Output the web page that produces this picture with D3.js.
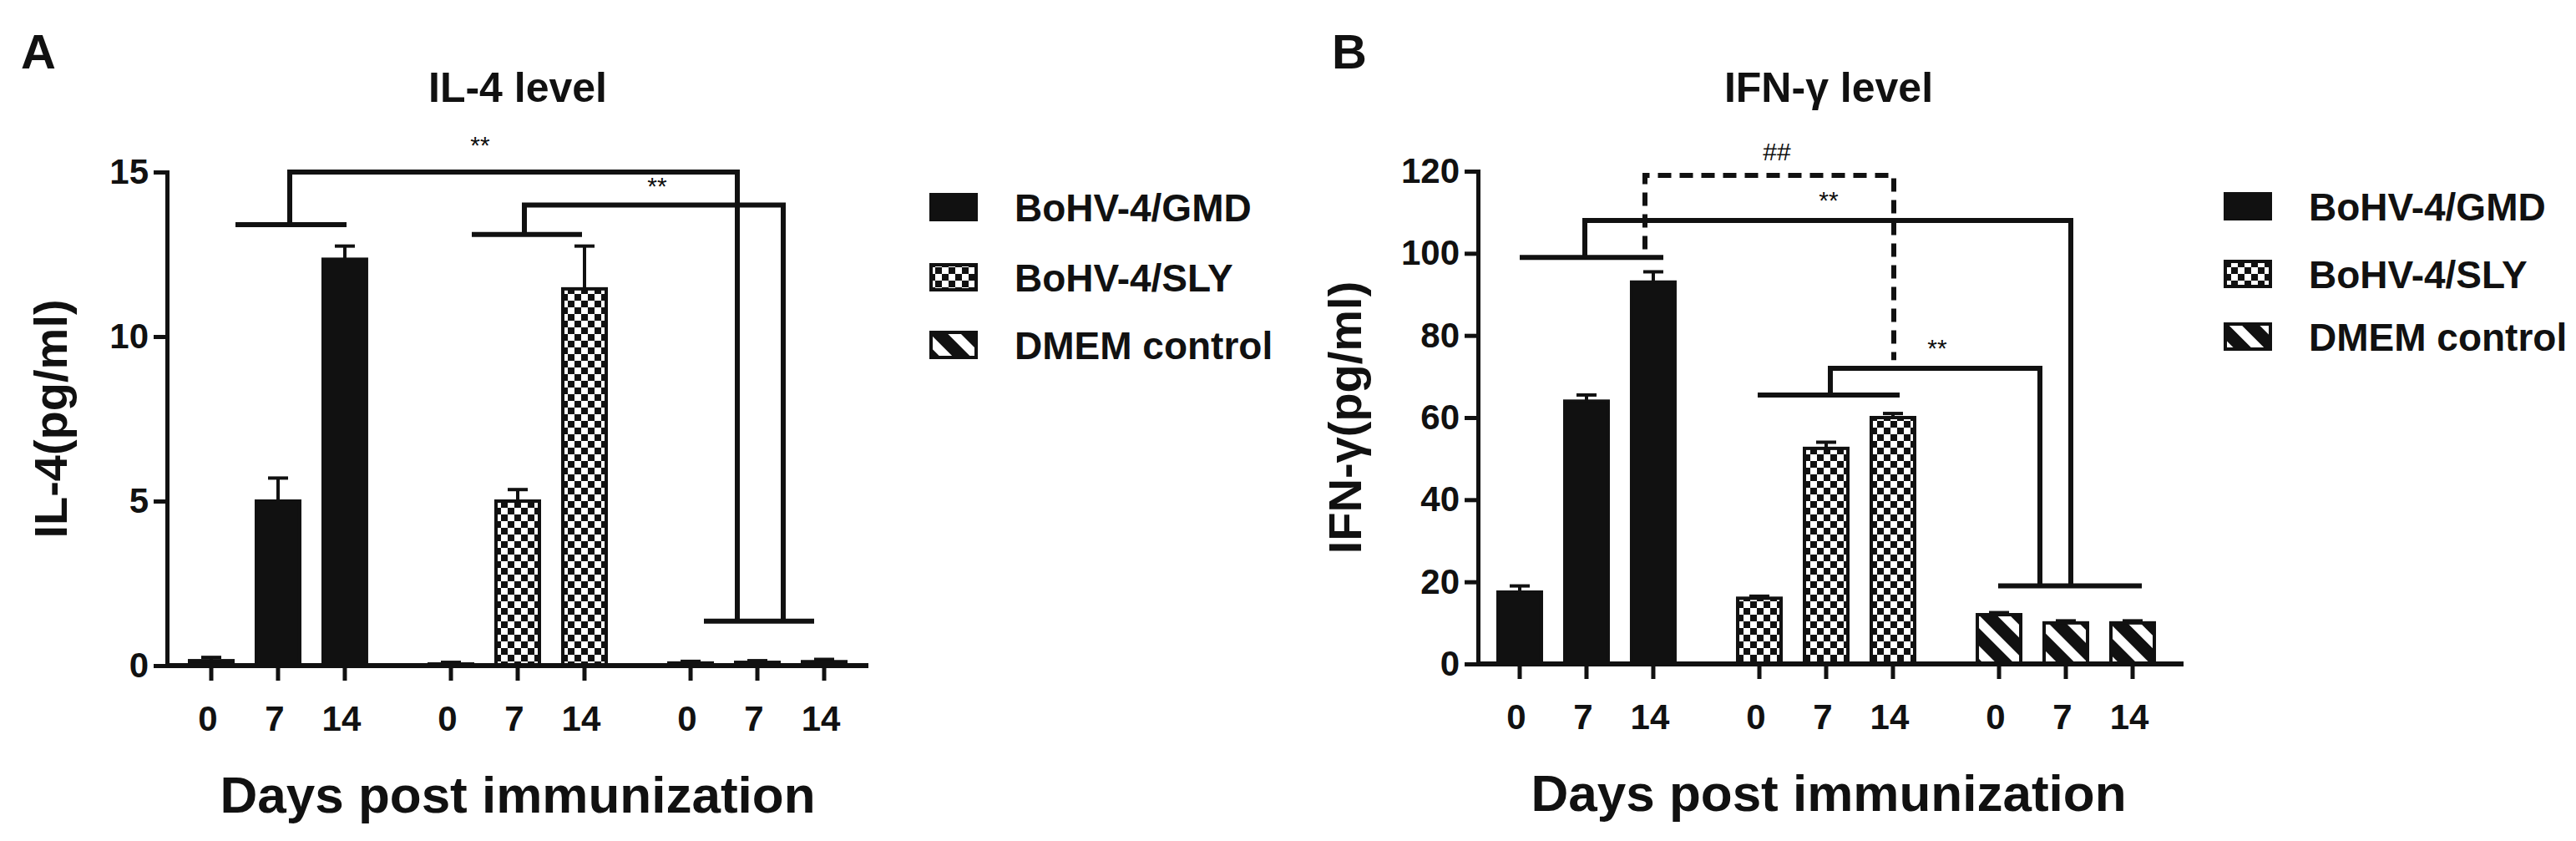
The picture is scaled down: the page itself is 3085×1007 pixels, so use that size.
<!DOCTYPE html>
<html><head><meta charset="utf-8">
<script src="https://cdn.jsdelivr.net/npm/d3@7"></script>
<style>body{margin:0;background:#fff}text{font-family:Arial,"Liberation Sans",sans-serif;font-weight:bold;fill:#111}</style>
</head><body><svg id="c" width="3085" height="1007"></svg>
<script>
const days = ["0","7","14"];
const groups = ["BoHV-4/GMD","BoHV-4/SLY","DMEM control"];
const il4Values = [[0.15,5.0,12.35],[0.05,5.0,11.45],[0.08,0.1,0.12]];
const il4Errors = [[0.1,0.7,0.4],[0.05,0.35,1.3],[0.05,0.05,0.07]];
const ifnValues = [[17.5,64,93],[16,52.5,60],[12,10,10]];
const ifnErrors = [[1.5,1.5,2.5],[0.5,1.5,1],[0.5,0.5,0.5]];
const il4Ticks = [0,5,10,15];
const ifnTicks = [0,20,40,60,80,100,120];

const svg = d3.select("#c");
const defs = svg.append("defs");
const chk = defs.append("pattern").attr("id","chk").attr("patternUnits","userSpaceOnUse").attr("width",16).attr("height",16);
chk.append("rect").attr("width",16).attr("height",16).attr("fill","#fff");
chk.append("rect").attr("width",8).attr("height",8).attr("fill","#111");
chk.append("rect").attr("x",8).attr("y",8).attr("width",8).attr("height",8).attr("fill","#111");
const str = defs.append("pattern").attr("id","str").attr("patternUnits","userSpaceOnUse").attr("width",26).attr("height",26).attr("patternTransform","rotate(-45)");
str.append("rect").attr("width",26).attr("height",26).attr("fill","#111");
str.append("rect").attr("width",11).attr("height",26).attr("fill","#fff");
const fills = ["#111","url(#chk)","url(#str)"];

function panel(o){
  const g = svg.append("g");
  const y = d3.scaleLinear().domain([0,o.max]).range([o.y0,o.yTop]);
  const outer = d3.scaleBand().domain(groups).range([o.xa+o.bs,o.xa+o.bs+814]).paddingInner(0.164).paddingOuter(0);
  const inner = d3.scalePoint().domain(days).range([0,outer.bandwidth()]).padding(0.5);
  const cx = (gi,di)=>outer(groups[gi])+inner(days[di]);
  const bw = 52;
  groups.forEach((gn,gi)=>days.forEach((d,di)=>{
    const v=o.vals[gi][di], e=o.errs[gi][di], x=cx(gi,di);
    g.append("line").attr("x1",x).attr("x2",x).attr("y1",y(v)).attr("y2",y(v+e)).attr("stroke","#111").attr("stroke-width",4);
    g.append("line").attr("x1",x-12).attr("x2",x+12).attr("y1",y(v+e)).attr("y2",y(v+e)).attr("stroke","#111").attr("stroke-width",4);
    g.append("rect").attr("x",x-bw/2).attr("width",bw).attr("y",y(v)).attr("height",o.y0-y(v)).attr("fill",fills[gi]).attr("stroke","#111").attr("stroke-width",4);
  }));
  const ya = g.append("g").attr("transform",`translate(${o.xa},0)`).call(d3.axisLeft(y).tickValues(o.ticks).tickSize(16).tickPadding(6));
  ya.select(".domain").attr("stroke-width",5).attr("stroke","#111");
  ya.selectAll("line").attr("stroke-width",5).attr("stroke","#111");
  ya.selectAll("text").style("font-size","42px").attr("fill","#111");
  g.append("line").attr("x1",o.xa).attr("x2",o.xEnd).attr("y1",o.y0).attr("y2",o.y0).attr("stroke","#111").attr("stroke-width",6);
  groups.forEach((gn,gi)=>days.forEach((d,di)=>{
    const x=cx(gi,di);
    g.append("line").attr("x1",x).attr("x2",x).attr("y1",o.y0).attr("y2",o.y0+18).attr("stroke","#111").attr("stroke-width",5);
    g.append("text").attr("x",x-4).attr("y",o.y0+78).attr("text-anchor","middle").style("font-size","42px").text(d);
  }));
  g.append("text").attr("x",o.tx).attr("y",o.y0+176).attr("text-anchor","middle").style("font-size","62px").text("Days post immunization");
  g.append("text").attr("x",o.tx).attr("y",122).attr("text-anchor","middle").style("font-size","50px").text(o.title);
  g.append("text").attr("x",o.lx).attr("y",82).style("font-size","58px").text(o.letter);
  g.append("text").attr("transform",`translate(${o.ylx},${(o.y0+o.yTop)/2}) rotate(-90)`).attr("text-anchor","middle").style("font-size","56px").text(o.ylab);
  const L = (pts,dash)=>g.append("path").attr("d",d3.line()(pts.map(p=>[p[0],y(p[1])]))).attr("fill","none").attr("stroke","#111").attr("stroke-width",6).attr("stroke-dasharray",dash||null);
  o.brackets(L,cx,y,g);
  groups.forEach((gn,i)=>{
    const ly=o.legY[i];
    g.append("rect").attr("x",o.legX).attr("y",ly-15).attr("width",54).attr("height",30).attr("fill",fills[i]).attr("stroke","#111").attr("stroke-width",4);
    g.append("text").attr("x",o.legX+100).attr("y",ly+17).style("font-size","46px").text(gn);
  });
}
const star=(g,x,yv,t)=>g.append("text").attr("x",x).attr("y",yv).attr("text-anchor","middle").style("font-size","30px").style("font-weight","normal").text(t);

panel({xa:200,xEnd:1040,bs:13,y0:797,yTop:206,max:15,vals:il4Values,errs:il4Errors,ticks:il4Ticks,
  title:"IL-4 level",letter:"A",ylab:"IL-4(pg/ml)",tx:620,lx:25,ylx:80,legX:1115,legY:[248,332,413],
  brackets:(L,cx,y,g)=>{
    L([[282,13.4],[415,13.4]]);L([[347,13.4],[347,15],[883,15],[883,1.35]]);
    L([[565,13.1],[697,13.1]]);L([[628,13.1],[628,14],[938,14],[938,1.35]]);
    L([[843,1.35],[975,1.35]]);
    star(g,575,y(15)-22,"**");star(g,787,y(14)-12,"**");
  }});
panel({xa:1770,xEnd:2615,bs:10,y0:795,yTop:205,max:120,vals:ifnValues,errs:ifnErrors,ticks:ifnTicks,
  title:"IFN-γ level",letter:"B",ylab:"IFN-γ(pg/ml)",tx:2190,lx:1595,ylx:1630,legX:2665,legY:[247,328,403],
  brackets:(L,cx,y,g)=>{
    L([[1820,99],[1992,99]]);L([[1898,99],[1898,108],[2480,108],[2480,19]]);
    L([[2105,65.5],[2275,65.5]]);L([[2192,65.5],[2192,72],[2443,72],[2443,19]]);
    L([[2393,19],[2565,19]]);
    L([[1970,101],[1970,119],[2268,119],[2268,74]],"16,10");
    star(g,2190,y(108)-14,"**");star(g,2320,y(72)-14,"**");star(g,2128,y(119)-18,"##");
  }});
</script></body></html>
